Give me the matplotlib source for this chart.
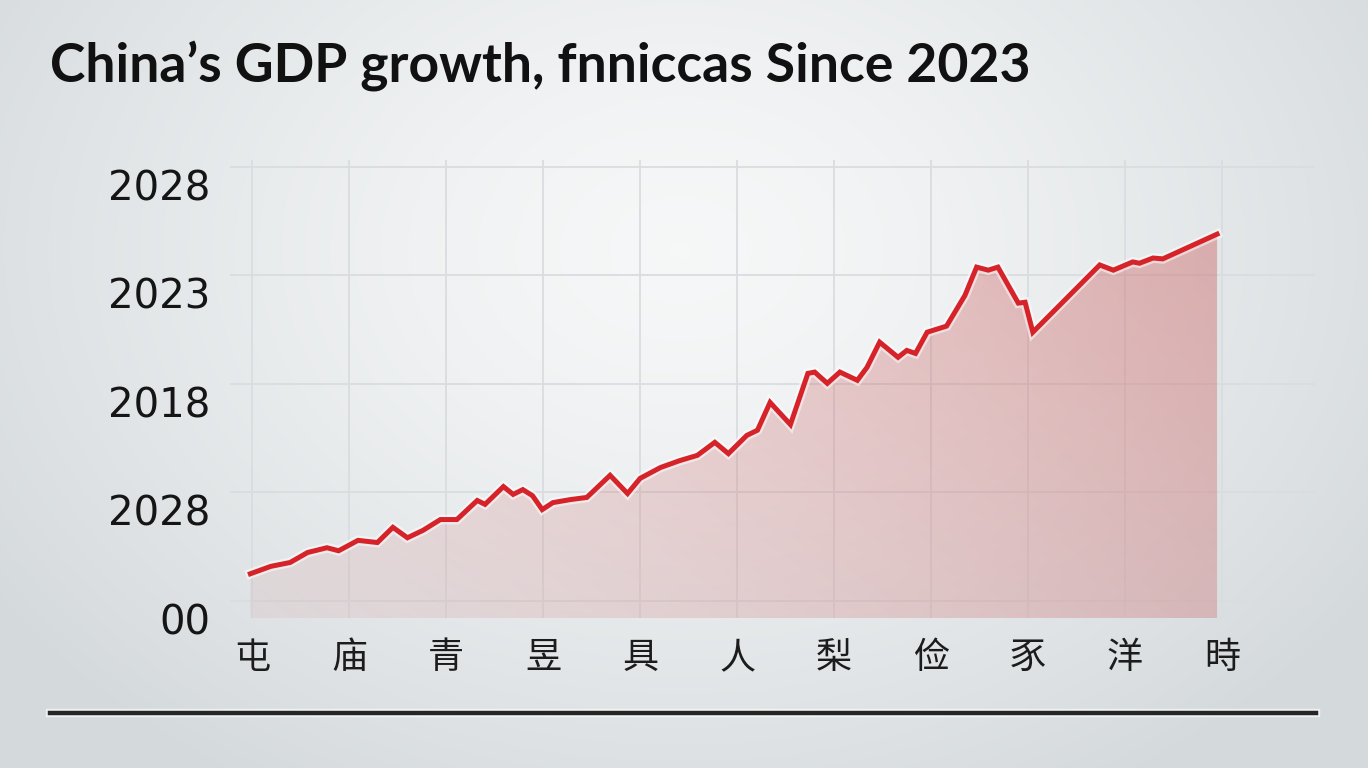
# China's GDP growth chart (recreated)

import matplotlib.pyplot as plt
import numpy as np
from matplotlib.lines import Line2D
from matplotlib import patheffects as pe
from matplotlib.transforms import ScaledTranslation

# positions along the x axis (tick units) and the series values (0-100 scale)
x_pos = [-0.02, 0.19, 0.39, 0.57, 0.77, 0.89, 1.09, 1.29, 1.45, 1.60, 1.76, 1.94,
         2.11, 2.32, 2.40, 2.59, 2.69, 2.79, 2.89, 2.99, 3.10, 3.28, 3.45, 3.69,
         3.87, 4.00, 4.21, 4.41, 4.59, 4.77, 4.91, 5.10, 5.21, 5.34, 5.55, 5.73,
         5.80, 5.93, 6.06, 6.24, 6.34, 6.47, 6.66, 6.75, 6.84, 6.96, 7.16, 7.35,
         7.47, 7.59, 7.69, 7.90, 7.97, 8.05, 8.74, 8.88, 9.08, 9.15, 9.29, 9.39,
         9.95]
gdp = [6.2, 7.9, 8.8, 11.1, 12.2, 11.5, 13.9, 13.4, 16.9, 14.5, 16.2, 18.7,
       18.7, 23.1, 22.2, 26.3, 24.5, 25.6, 24.2, 21.0, 22.6, 23.3, 23.8, 28.9,
       24.7, 28.2, 30.7, 32.3, 33.5, 36.5, 33.9, 38.1, 39.3, 45.7, 40.6, 52.4,
       52.7, 50.1, 52.7, 50.8, 53.8, 59.6, 56.1, 57.7, 57.0, 61.9, 63.3, 70.4,
       76.9, 76.2, 76.9, 68.6, 68.8, 61.9, 77.4, 76.2, 78.1, 77.8, 79.0, 78.8,
       84.5]

x_labels = ['屯', '庙', '青', '昱', '具', '人', '梨', '俭', '豕', '洋', '時']
y_ticks = [0, 25, 50, 75, 100]
y_labels = ['00', '2028', '2018', '2023', '2028']

title = 'China\u2019s GDP growth, fnniccas Since 2023'

W, H = 1368, 768
fig = plt.figure(figsize=(W / 100, H / 100), dpi=100)

# soft grey background, lighter in the middle
bg = fig.add_axes([0, 0, 1, 1], zorder=-10)
bg.axis('off')
yy, xx = np.mgrid[0:H, 0:W]
d = np.sqrt(((xx - 680) / 820.0) ** 2 + ((yy - 250) / 620.0) ** 2)
d = np.clip(d, 0, 1) ** 1.4
c0 = np.array([0.965, 0.970, 0.972])
c1 = np.array([0.835, 0.855, 0.865])
bg.imshow(c0 + (c1 - c0) * d[..., None], aspect='auto', extent=[0, 1, 0, 1])
bg.set_xlim(0, 1)
bg.set_ylim(0, 1)

# main axes
ax = fig.add_axes([230 / W, 1 - 618 / H, 1085 / W, 458 / H])
ax.patch.set_alpha(0)
ymin, ymax = -4, 101.6
xmin, xmax = -0.23, 10.96

# gradient fill under the line
poly = ax.fill_between(x_pos, gdp, ymin, color='none', lw=0)
gx = np.linspace(0, 1, 300)
gy = np.linspace(0, 1, 200)
GX, GY = np.meshgrid(gx, gy)
rgba = np.zeros((200, 300, 4))
rgba[..., 0] = 0.80
rgba[..., 1] = 0.38
rgba[..., 2] = 0.38
rgba[..., 3] = 0.08 + 0.26 * GX + 0.14 * GY
im = ax.imshow(rgba, extent=[xmin, xmax, ymin, ymax], origin='lower',
               aspect='auto', zorder=1)
im.set_clip_path(poly.get_paths()[0], transform=ax.transData)

# the line
ax.plot(x_pos, gdp, color='#d6232a', lw=3.6, zorder=3, solid_joinstyle='miter',
        path_effects=[pe.Stroke(linewidth=7, foreground='white', alpha=0.5),
                      pe.Normal()])

ax.set_xlim(xmin, xmax)
ax.set_ylim(ymin, ymax)

ax.set_xticks(range(len(x_labels)))
ax.set_xticklabels(x_labels, fontsize=26, fontweight='medium',
                   family=['Noto Sans CJK SC', 'DejaVu Sans'], color='#1c1c1c')
ax.set_yticks(y_ticks)
ax.set_yticklabels(y_labels, fontsize=29, color='#151515')
ax.tick_params(length=0)
ax.tick_params(axis='x', pad=16)
ax.tick_params(axis='y', pad=14)
for lbl in ax.get_yticklabels():
    lbl.set_transform(lbl.get_transform() + ScaledTranslation(0, -0.18, fig.dpi_scale_trans))

ax.grid(True, color='#d9dde0', lw=1.3, zorder=0)
ax.set_axisbelow(True)
for s in ax.spines.values():
    s.set_visible(False)

# title
fig.text(50 / W, 1 - 66 / H, title, fontsize=38.5, fontweight='bold',
         family=['Lato', 'DejaVu Sans'], va='center', ha='left',
         color='#111111')

# rule at the bottom
fig.add_artist(Line2D([50 / W, 1316 / W], [1 - 713 / H, 1 - 713 / H],
                      transform=fig.transFigure, color='#262626', lw=3.2,
                      path_effects=[pe.Stroke(linewidth=6, foreground='white', alpha=0.6),
                                    pe.Normal()]))

fig.savefig('out.png', dpi=100)
